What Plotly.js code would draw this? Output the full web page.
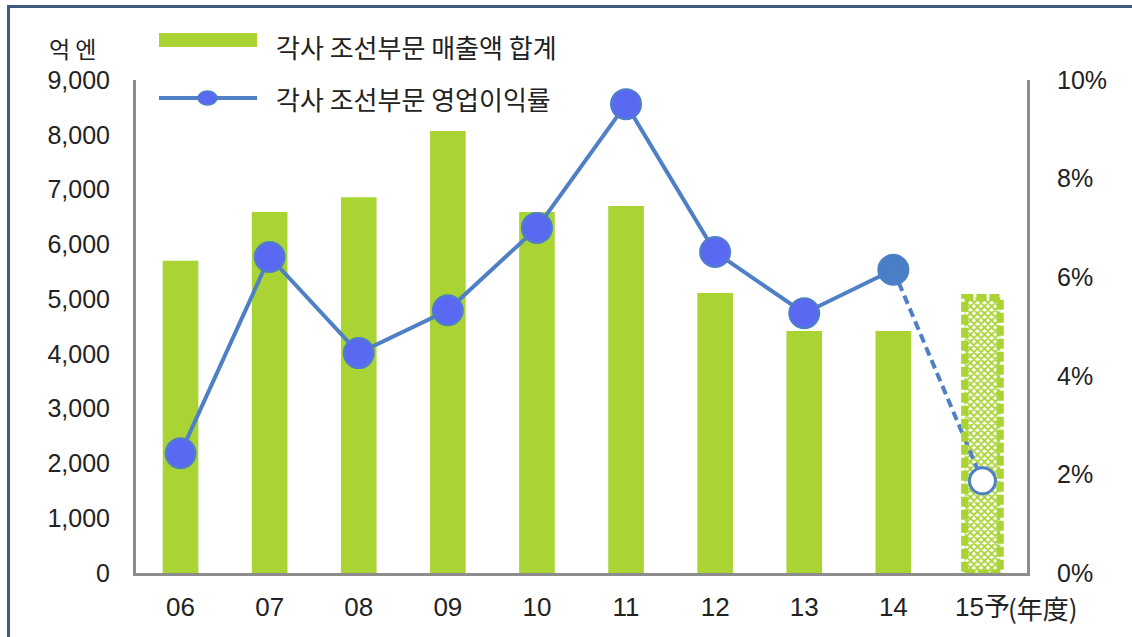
<!DOCTYPE html>
<html>
<head>
<meta charset="utf-8">
<script src="https://cdn.plot.ly/plotly-3.0.1.min.js"></script>
<style>
  html, body { margin: 0; padding: 0; background: #ffffff; }
  #wrap { position: relative; width: 1132px; height: 637px; overflow: hidden; }
  #chart { position: absolute; left: 0; top: 0; width: 1132px; height: 637px; }
  #frame { position: absolute; left: 7px; top: 5px; right: -10px; bottom: -10px;
           border-top: 3px solid #3F5B7B; border-left: 3px solid #3F5B7B; pointer-events: none; }
</style>
</head>
<body>
<div id="wrap">
  <div id="chart"></div>
  <div id="frame"></div>
</div>
<script>
// ---- data ----
const years = ['06', '07', '08', '09', '10', '11', '12', '13', '14', '15予'];
const sales = [5700, 6590, 6860, 8070, 6590, 6700, 5110, 4420, 4420, 5030];   // 억 엔
const margin = [2.43, 6.41, 4.46, 5.33, 7.0, 9.51, 6.51, 5.27, 6.15, 1.87];  // %
const salesName = '각사 조선부문 매출액 합계';
const marginName = '각사 조선부문 영업이익률';
const leftTicks = [0, 1000, 2000, 3000, 4000, 5000, 6000, 7000, 8000, 9000];
const rightTicks = [0, 2, 4, 6, 8, 10];
const rightTickText = ['0%', '2%', '4%', '6%', '8%', '10%'];
const forecastIndex = 9;

// ---- styles ----
const GREEN = '#A9D433';
const LINEBLUE = '#4F80C6';
const DOTBLUE = '#5A69F2';
const DOT14 = '#4A7FC8';
const AXIS = '#8C8C8C';
const FONT = 'Liberation Sans, Arial, Noto Sans CJK KR, sans-serif';
const KFONT = 'Noto Sans CJK KR, sans-serif';

const idx = years.map((_, i) => i);
const last = years.length - 1;

const barTrace = {
  type: 'bar', x: idx, y: sales, name: salesName, yaxis: 'y',
  width: 0.4,
  marker: {
    color: GREEN,
    line: { width: 0 },
    pattern: {
      shape: idx.map(i => i === forecastIndex ? 'x' : ''),
      fgcolor: GREEN, bgcolor: '#ffffff', size: 5, solidity: 0.6, fillmode: 'replace'
    }
  },
  hoverinfo: 'x+y', showlegend: false
};

const solidY = margin.map((v, i) => i < forecastIndex ? v : null);
const dashY = margin.map((v, i) => i >= forecastIndex - 1 ? v : null);

const solidTrace = {
  type: 'scatter', mode: 'lines+markers', x: idx, y: solidY, yaxis: 'y2',
  line: { color: LINEBLUE, width: 4 },
  marker: {
    size: 30, opacity: 1,
    color: idx.map(i => i === forecastIndex - 1 ? DOT14 : DOTBLUE),
    line: { color: LINEBLUE, width: 2 }
  },
  showlegend: false, cliponaxis: false
};

const dashTrace = {
  type: 'scatter', mode: 'lines', x: idx, y: dashY, yaxis: 'y2',
  line: { color: LINEBLUE, width: 4, dash: '9px,5px' },
  showlegend: false, cliponaxis: false
};

const forecastDot = {
  type: 'scatter', mode: 'markers', x: [idx[forecastIndex]], y: [margin[forecastIndex]], yaxis: 'y2',
  marker: { size: 26, color: '#ffffff', opacity: 1, line: { color: LINEBLUE, width: 3 } },
  showlegend: false, cliponaxis: false
};

// dashed outline round the forecast bar, built from its data value
const shapes = [{
  type: 'rect', xref: 'x', yref: 'y', layer: 'above',
  x0: forecastIndex - 0.2, x1: forecastIndex + 0.2, y0: 0, y1: sales[forecastIndex],
  line: { color: GREEN, width: 7, dash: '10px,3px' }, fillcolor: 'rgba(0,0,0,0)'
}];

// custom legend (paper coordinates)
const W = 1132 - 136 - 105, H = 637 - 80 - 64;
const px = x => (x - 136) / W;
const py = y => 1 - (y - 80) / H;
shapes.push({ type: 'rect', xref: 'paper', yref: 'paper', x0: px(159), x1: px(257), y0: py(47), y1: py(33),
  fillcolor: GREEN, line: { width: 0 } });
shapes.push({ type: 'line', xref: 'paper', yref: 'paper', x0: px(159), x1: px(257), y0: py(98), y1: py(98),
  line: { color: LINEBLUE, width: 4 } });
shapes.push({ type: 'circle', xref: 'paper', yref: 'paper', x0: px(198), x1: px(217), y0: py(105), y1: py(91),
  fillcolor: DOTBLUE, line: { color: LINEBLUE, width: 1.5 } });

const annotations = [
  { xref: 'paper', yref: 'paper', x: px(274), y: py(47), xanchor: 'left', yanchor: 'middle',
    text: salesName, showarrow: false, font: { family: KFONT, size: 26, color: '#222' } },
  { xref: 'paper', yref: 'paper', x: px(274), y: py(98), xanchor: 'left', yanchor: 'middle',
    text: marginName, showarrow: false, font: { family: KFONT, size: 26, color: '#222' } },
  { xref: 'paper', yref: 'paper', x: px(72), y: py(48), xanchor: 'center', yanchor: 'middle',
    text: '억 엔', showarrow: false, font: { family: KFONT, size: 23, color: '#222' } },
  { xref: 'x', yref: 'paper', x: forecastIndex, xshift: 24, y: py(607), xanchor: 'left', yanchor: 'middle',
    text: '(年度)', showarrow: false, font: { family: 'Noto Sans CJK JP, sans-serif', size: 26, color: '#222' } }
];

const layout = {
  width: 1132, height: 637,
  margin: { l: 136, r: 105, t: 80, b: 64, pad: 0 },
  paper_bgcolor: '#ffffff', plot_bgcolor: '#ffffff',
  font: { family: FONT, size: 25, color: '#222' },
  showlegend: false,
  xaxis: {
    type: 'linear', range: [-0.5, last + 0.5],
    tickmode: 'array', tickvals: idx, ticktext: years,
    showgrid: false, zeroline: false,
    showline: true, linecolor: AXIS, linewidth: 3,
    ticks: '', ticklabelstandoff: 9,
    tickfont: { family: 'Liberation Sans, Noto Sans CJK JP, sans-serif', size: 26, color: '#222' }
  },
  yaxis: {
    range: [0, 9000], tickmode: 'array', tickvals: leftTicks, tickformat: ',d',
    showgrid: false, zeroline: false,
    showline: true, linecolor: AXIS, linewidth: 3,
    ticks: '', ticklabelstandoff: 18,
    tickfont: { family: FONT, size: 25, color: '#222' }
  },
  yaxis2: {
    overlaying: 'y', side: 'right',
    range: [0, 10], tickmode: 'array', tickvals: rightTicks, ticktext: rightTickText,
    showgrid: false, zeroline: false,
    showline: true, linecolor: AXIS, linewidth: 3,
    ticks: '', ticklabelstandoff: 22,
    tickfont: { family: FONT, size: 25, color: '#222' }
  },
  shapes: shapes,
  annotations: annotations
};

Plotly.newPlot('chart', [barTrace, solidTrace, dashTrace, forecastDot], layout, { staticPlot: true, displayModeBar: false });
</script>
</body>
</html>
